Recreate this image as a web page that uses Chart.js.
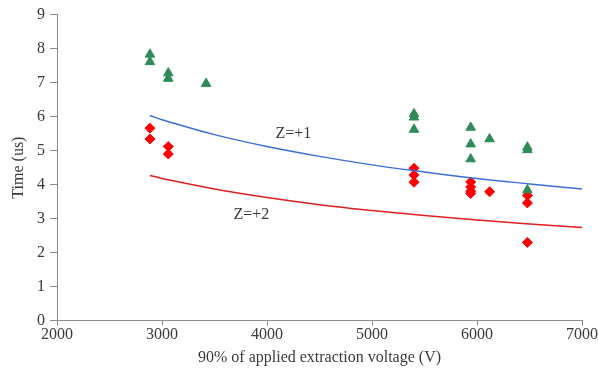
<!DOCTYPE html>
<html>
<head>
<meta charset="utf-8">
<script src="https://cdn.jsdelivr.net/npm/chart.js@4/dist/chart.umd.min.js"></script>
<style>
  html, body { margin: 0; padding: 0; background: #fff; }
  #wrap { width: 598px; height: 385px; }
</style>
</head>
<body>
<div id="wrap"><canvas id="chart"></canvas></div>
<script>
// measured points (voltage, time)
const z1X = [2885, 2885, 3060, 3060, 3420, 5400, 5400, 5400, 5940, 5940, 5940, 6120, 6480, 6480, 6480];
const z1Y = [7.83, 7.61, 7.28, 7.12, 6.97, 6.08, 5.98, 5.62, 5.68, 5.19, 4.75, 5.34, 5.10, 5.02, 3.84];

const z2X = [2885, 2885, 3060, 3060, 5400, 5400, 5400, 5940, 5940, 5940, 5940, 6120, 6480, 6480, 6480];
const z2Y = [5.66, 5.34, 5.12, 4.90, 4.48, 4.28, 4.07, 4.08, 3.93, 3.81, 3.74, 3.79, 3.68, 3.46, 2.30];

// model curves
const curveX = [2885, 3000, 3500, 4000, 4500, 5000, 5500, 6000, 6500, 7000];
const curveZ1 = [6.03, 5.91, 5.47, 5.12, 4.83, 4.58, 4.37, 4.18, 4.02, 3.87];
const curveZ2 = [4.27, 4.18, 3.87, 3.62, 3.41, 3.24, 3.09, 2.96, 2.84, 2.74];

const xTicks = [2000, 3000, 4000, 5000, 6000, 7000];
const yTicks = [0, 1, 2, 3, 4, 5, 6, 7, 8, 9];

const notes = [
  { text: 'Z=+1', x: 4080, y: 5.5 },
  { text: 'Z=+2', x: 3680, y: 3.1 }
];

const pts = (xs, ys) => xs.map((x, i) => ({ x: x, y: ys[i] }));

const font = "'Liberation Serif', 'Times New Roman', serif";
const axisGray = '#8c8c8c';
const textGray = '#3a3a3a';

const notePlugin = {
  id: 'notes',
  afterDatasetsDraw(chart) {
    const ctx = chart.ctx;
    const xs = chart.scales.x, ys = chart.scales.y;
    ctx.save();
    ctx.font = '16px ' + font;
    ctx.fillStyle = textGray;
    ctx.textAlign = 'left';
    ctx.textBaseline = 'middle';
    notes.forEach(n => ctx.fillText(n.text, xs.getPixelForValue(n.x), ys.getPixelForValue(n.y)));
    ctx.restore();
  }
};

new Chart(document.getElementById('chart'), {
  type: 'scatter',
  data: {
    datasets: [
      {
        data: pts(curveX, curveZ1),
        showLine: true,
        borderColor: '#3a6fd8',
        borderWidth: 1.5,
        pointRadius: 0,
        tension: 0.4
      },
      {
        data: pts(curveX, curveZ2),
        showLine: true,
        borderColor: '#e02020',
        borderWidth: 1.5,
        pointRadius: 0,
        tension: 0.4
      },
      {
        data: pts(z1X, z1Y),
        pointStyle: 'triangle',
        pointRadius: 5.5,
        backgroundColor: '#2e8b57',
        borderColor: '#2e8b57'
      },
      {
        data: pts(z2X, z2Y),
        pointStyle: 'rectRot',
        pointRadius: 5,
        backgroundColor: '#ff0000',
        borderColor: '#ff0000'
      }
    ]
  },
  options: {
    responsive: true,
    maintainAspectRatio: false,
    animation: false,
    layout: { padding: { left: 0, right: 14, top: 11, bottom: 18 } },
    plugins: {
      legend: { display: false },
      tooltip: { enabled: false }
    },
    scales: {
      x: {
        type: 'linear',
        min: 2000,
        max: 7000,
        afterBuildTicks: s => { s.ticks = xTicks.map(v => ({ value: v })); },
        grid: { display: true, drawOnChartArea: false, drawTicks: true, tickLength: 5, color: axisGray },
        border: { color: axisGray, width: 1 },
        ticks: {
          color: textGray,
          font: { family: font, size: 16 },
          padding: 0,
          callback: v => String(v)
        },
        title: {
          display: true,
          text: '90% of applied extraction voltage (V)',
          color: textGray,
          font: { family: font, size: 16 },
          padding: { top: 3, bottom: 0 }
        }
      },
      y: {
        min: 0,
        max: 9,
        afterBuildTicks: s => { s.ticks = yTicks.map(v => ({ value: v })); },
        grid: { display: true, drawOnChartArea: false, drawTicks: true, tickLength: 7, color: axisGray },
        border: { color: axisGray, width: 1 },
        ticks: { color: textGray, font: { family: font, size: 16 }, padding: 5 },
        title: {
          display: true,
          text: 'Time (us)',
          color: textGray,
          font: { family: font, size: 16 },
          padding: { top: 9, bottom: 4 }
        },
        afterFit: s => { s.width = 57; }
      }
    }
  },
  plugins: [notePlugin]
});
</script>
</body>
</html>
